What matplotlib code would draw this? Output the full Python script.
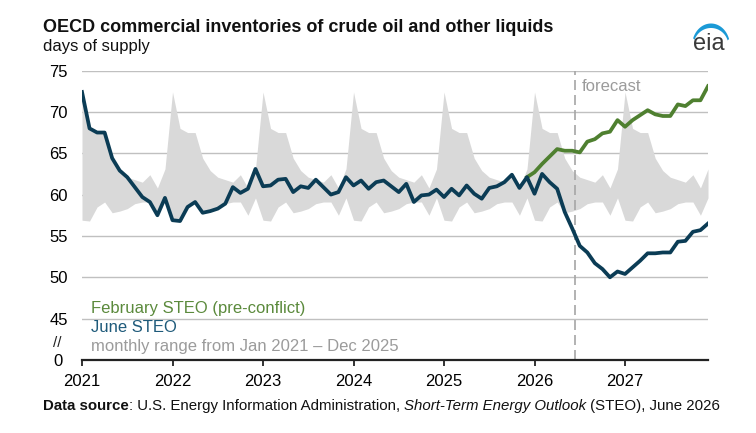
import matplotlib
matplotlib.use("Agg")
import matplotlib.pyplot as plt
import numpy as np

plt.rcParams["font.family"] = ["Liberation Sans", "DejaVu Sans"]

# month index 0 = Jan 2021, 83 = Dec 2027
years = ["2021", "2022", "2023", "2024", "2025", "2026", "2027"]

june_steo = [
    72.4, 68.0, 67.5, 67.5, 64.4, 62.9, 62.1, 60.9, 59.7, 59.1, 57.5, 59.6,
    56.9, 56.8, 58.5, 59.1, 57.8, 58.0, 58.3, 58.9, 60.9, 60.2, 60.7, 63.1,
    61.0, 61.1, 61.8, 61.9, 60.3, 61.0, 60.8, 61.8, 60.9, 60.0, 60.3, 62.1,
    61.1, 61.7, 60.7, 61.5, 61.7, 61.0, 60.3, 61.3, 59.1, 59.9, 60.0, 60.6,
    59.7, 60.7, 59.9, 61.1, 60.1, 59.5, 60.8, 61.0, 61.5, 62.4, 60.8, 62.1,
    60.1, 62.5, 61.5, 60.7, 57.9, 55.9, 53.8, 53.0, 51.7, 51.0, 50.0, 50.7,
    50.4, 51.2, 52.0, 52.9, 52.9, 53.0, 53.0, 54.3, 54.4, 55.5, 55.7, 56.5,
]

# February STEO starts Dec 2025 (month index 59)
feb_start = 59
feb_steo = [
    62.1, 62.7, 63.7, 64.6, 65.5, 65.3, 65.3, 65.1, 66.4, 66.7, 67.4, 67.6,
    69.0, 68.2, 69.0, 69.6, 70.2, 69.7, 69.5, 69.5, 70.9, 70.7, 71.4, 71.4,
    73.1,
]

# monthly range Jan..Dec (2021-2025), repeated for every year shown
range_low = [56.9, 56.8, 58.5, 59.1, 57.8, 58.0, 58.3, 58.9, 59.1, 59.1, 57.5, 59.6]
range_high = [72.4, 68.0, 67.5, 67.5, 64.4, 62.9, 62.1, 61.8, 61.5, 62.4, 60.8, 63.1]

forecast_at = 65.3

navy = "#0b3c55"
green = "#4f8030"
grey_txt = "#9b9b9b"

fig = plt.figure(figsize=(7.56, 4.33), dpi=100)
ax = fig.add_axes([82 / 756, 73 / 433, 626 / 756, 289.5 / 433])

x = np.arange(len(june_steo))
ax.fill_between(x, np.tile(range_low, len(years)), np.tile(range_high, len(years)),
                color="#d9d9d9", lw=0, zorder=1)

for v in [45, 50, 55, 60, 65, 70, 75]:
    ax.axhline(v, color="#c0c0c0", lw=1.0, zorder=0.5)

ax.axvline(forecast_at, color="#a6a6a6", lw=1.2, ls=(0, (6, 3)), zorder=2)
ax.text(forecast_at + 1.0, 72.56, "forecast", color=grey_txt, fontsize=12,
        va="baseline", ha="left")

xf = np.arange(feb_start, feb_start + len(feb_steo))
ax.plot(xf, feb_steo, color=green, lw=2.7, solid_joinstyle="round", zorder=3)
ax.plot(x, june_steo, color=navy, lw=2.7, solid_joinstyle="round", zorder=4)

ax.set_xlim(0, 83)
ax.set_ylim(40, 75)

ax.set_xticks(np.arange(len(years)) * 12)
ax.set_xticklabels(years, fontsize=12)
ax.tick_params(axis="x", length=4, width=1.3, color="#222222", pad=6)

ax.set_yticks([40, 45, 50, 55, 60, 65, 70, 75])
ax.set_yticklabels(["0", "45", "50", "55", "60", "65", "70", "75"], fontsize=12)
ax.tick_params(axis="y", length=0, pad=17)
for lab in ax.get_yticklabels():
    lab.set_horizontalalignment("center")

for s in ["top", "right", "left"]:
    ax.spines[s].set_visible(False)
ax.spines["bottom"].set_color("#222222")
ax.spines["bottom"].set_linewidth(1.6)

# axis break mark
ax.text(-3.25, 42.05, "//", fontsize=11, ha="center", va="center",
        color="#222222", transform=ax.transData, clip_on=False)

# inline legend
ax.text(1.2, 45.72, "February STEO (pre-conflict)", color="#5b8a3c",
        fontsize=12, va="baseline")
ax.text(1.2, 43.35, "June STEO", color="#1e5a7a", fontsize=12, va="baseline")
ax.text(1.2, 41.09, "monthly range from Jan 2021 \u2013 Dec 2025", color=grey_txt,
        fontsize=12, va="baseline")

# titles
fig.text(43 / 756, 1 - 31.7 / 433, "OECD commercial inventories of crude oil and other liquids",
         fontsize=13.0, fontweight="bold", va="baseline", color="#111111")
fig.text(43 / 756, 1 - 50.7 / 433, "days of supply", fontsize=12,
         va="baseline", color="#111111")

# source line with mixed styles
pieces = [
    ("Data source", "bold", "normal"),
    (": U.S. Energy Information Administration, ", "normal", "normal"),
    ("Short-Term Energy Outlook", "normal", "italic"),
    (" (STEO), June 2026", "normal", "normal"),
]
renderer = fig.canvas.get_renderer()
xpos = 43 / 756
for txt, weight, style in pieces:
    t = fig.text(xpos, 1 - 410 / 433, txt, fontsize=10.8, fontweight=weight,
                 fontstyle=style, va="baseline", color="#111111")
    bb = t.get_window_extent(renderer=renderer)
    xpos += bb.width / fig.bbox.width

# eia logo
lax = fig.add_axes([685 / 756, 1 - 55 / 433, 50 / 756, 40 / 433])
lax.set_xlim(685, 735)
lax.set_ylim(55, 15)
lax.axis("off")
th = np.radians(np.linspace(18, 160, 60))
outer_x = 711 + 19 * np.cos(th)
outer_y = 46 - 22.5 * np.sin(th)
inner_x = 711 + 17.5 * np.cos(th[::-1])
inner_y = 46 - 18.0 * np.sin(th[::-1])
lax.fill(np.concatenate([outer_x, inner_x]), np.concatenate([outer_y, inner_y]),
         color="#1b9ad6", lw=0)
lax.text(708.5, 50, "eia", fontsize=17, ha="center", va="baseline", color="#3a3a3a")

fig.savefig("out.png", dpi=100)
